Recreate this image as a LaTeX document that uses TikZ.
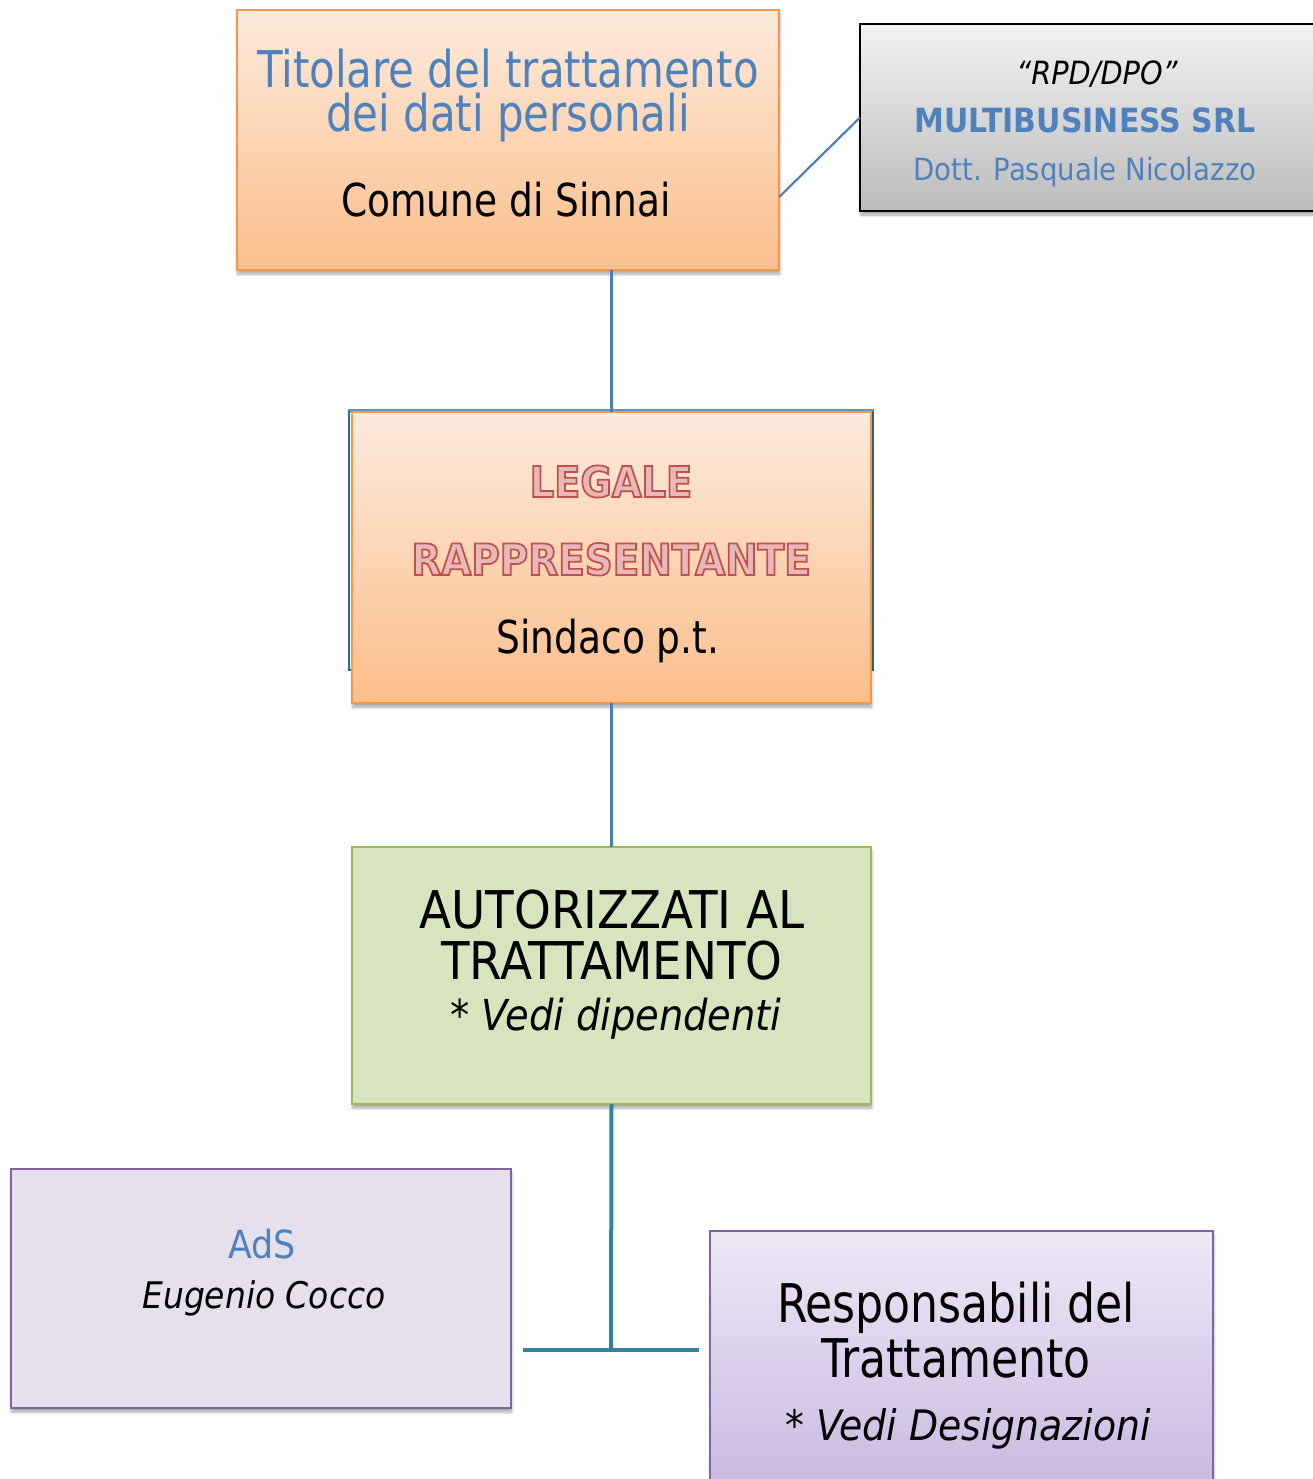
\documentclass[tikz,border=0pt]{standalone}
\usepackage{fontspec}
\setmainfont{DejaVu Sans Condensed}
\newfontfamily\narrowfont[FakeStretch=0.92]{DejaVu Sans Condensed}
\usetikzlibrary{fit,calc,shadows.blur}
\definecolor{tblue}{HTML}{4F81BD}
\definecolor{orbord}{HTML}{F79646}
\definecolor{ortop}{HTML}{FDEBDD}
\definecolor{orbot}{HTML}{FBBE8B}
\definecolor{grtop}{HTML}{F2F2F2}
\definecolor{grbot}{HTML}{BCBCBC}
\definecolor{grfill}{HTML}{D7E4BD}
\definecolor{grbord}{HTML}{9BBB59}
\definecolor{pufill}{HTML}{E5E0EC}
\definecolor{pubord}{HTML}{8064A2}
\definecolor{putop}{HTML}{EEE8F6}
\definecolor{pubot}{HTML}{C8B7E0}
\definecolor{lpink}{HTML}{E6B9B8}
\definecolor{teal}{HTML}{31849B}
\definecolor{legback}{HTML}{2E6E85}
\definecolor{lnblue}{HTML}{4A7EBB}
\newcommand\outlinetxt[1]{\special{pdf:literal direct 0.753 0.314 0.302 RG 1.3 w 2 Tr}#1\special{pdf:literal direct 0 Tr}}
\tikzset{
  box/.style={inner sep=0pt, outer sep=0pt, line width=1.5pt,
    blur shadow={shadow xshift=0.6pt, shadow yshift=-3pt, shadow blur steps=6, shadow opacity=35}},
  orbox/.style={box, draw=orbord, top color=ortop, bottom color=orbot},
  txt/.style={anchor=base, inner sep=0pt, outer sep=0pt},
  conn/.style={draw=lnblue, line width=1.6pt},
  tconn/.style={draw=teal, line width=3pt}
}
\begin{document}
\begin{tikzpicture}[x=0.75pt,y=-0.75pt]
\useasboundingbox (0,0) rectangle (1313,1479);
% Titolare
\node[orbox, fit={(237,10) (779,270)}] (tit) {};
\node[txt, align=center, text=tblue, font=\narrowfont\fontsize{38}{32.5}\selectfont] (tit1) at (508,131) {Titolare del trattamento\\dei dati personali};
\node[txt, font=\narrowfont\fontsize{34}{34}\selectfont] (tit3) at (506,216) {Comune di Sinnai};
% RPD
\node[box, draw=black, line width=1.2pt, top color=grtop, bottom color=grbot, fit={(860,24) (1340,211)}] (rpd) {};
\node[txt, font=\fontsize{24}{24}\itshape\selectfont] (rpd1) at (1097,84) {\char"201C RPD/DPO\char"201D};
\node[txt, text=tblue, font=\fontsize{25}{25}\bfseries\selectfont] (rpd2) at (1085,132) {MULTIBUSINESS SRL};
\node[txt, text=tblue, font=\fontsize{23}{23}\selectfont] (rpd3) at (1085,180) {Dott. Pasquale Nicolazzo};
\draw[conn] ($(tit.north east)!0.72!(tit.south east)$) -- (rpd.west);
% Legale
\node[draw=legback, line width=1.2pt, inner sep=0pt, fit={(349,411) (873,670)}] (lback) {};
\draw[draw=cyan!60!blue!70, line width=1.2pt] (lback.north west) -- (lback.north east);
\node[orbox, fit={(352,412) (871,703)}] (leg) {};
\node[txt, text=lpink, font=\fontsize{32}{32}\bfseries\selectfont] (leg1) at (611,497) {\outlinetxt{LEGALE}};
\node[txt, text=lpink, font=\fontsize{32.4}{32.4}\bfseries\selectfont] (leg2) at (611,575) {\outlinetxt{RAPPRESENTANTE}};
\node[txt, font=\narrowfont\fontsize{34}{34}\selectfont] (leg3) at (608,653) {Sindaco p.t.};
\draw[conn] (leg.north |- tit.south) -- (leg.north);
% Autorizzati
\node[box, draw=grbord, fill=grfill, fit={(352,847) (871,1104)}] (aut) {};
\node[txt, font=\fontsize{39}{39}\selectfont] (aut1) at (612,928) {AUTORIZZATI AL};
\node[txt, font=\fontsize{39}{39}\selectfont] (aut2) at (612,979) {TRATTAMENTO};
\node[txt, font=\fontsize{32}{32}\itshape\selectfont] (aut3) at (616,1030) {* Vedi dipendenti};
\draw[conn] (leg.south) -- (aut.north);
% AdS
\node[box, draw=pubord, fill=pufill, fit={(11,1169) (511,1408)}] (ads) {};
\node[txt, text=tblue, font=\fontsize{29}{29}\selectfont] (ads1) at (262,1258) {AdS};
\node[txt, font=\fontsize{27.5}{27.5}\itshape\selectfont] (ads2) at (264,1308) {Eugenio Cocco};
% Responsabili
\node[box, draw=pubord, top color=putop, bottom color=pubot, fit={(710,1231) (1213,1500)}] (res) {};
\node[txt, font=\narrowfont\fontsize{40}{40}\selectfont] (res1) at (956,1322) {Responsabili del};
\node[txt, font=\narrowfont\fontsize{40}{40}\selectfont] (res2) at (956,1377) {Trattamento};
\node[txt, font=\fontsize{31.5}{31.5}\itshape\selectfont] (res3) at (968,1440) {* Vedi Designazioni};
% T connector
\coordinate (tj) at (611,1350);
\coordinate (tl) at (523,1350);
\coordinate (tr) at (699,1350);
\draw[tconn] (aut.south) -- (tj);
\draw[tconn] (tl) -- (tr);
\end{tikzpicture}
\end{document}
